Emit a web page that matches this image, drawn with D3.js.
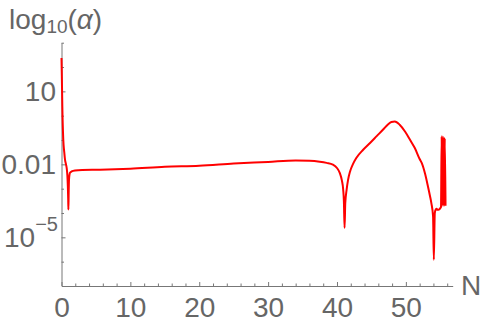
<!DOCTYPE html>
<html>
<head>
<meta charset="utf-8">
<script src="https://cdn.jsdelivr.net/npm/d3@7"></script>
<style>
  body { margin: 0; background: #fff; }
  svg text { font-family: "Liberation Sans", Arial, sans-serif; fill: #666; }
</style>
</head>
<body>
<svg width="484" height="325"></svg>
<script>
var nValues = [0.0, 0.05, 0.12, 0.26, 0.4, 0.51, 0.65, 0.75, 0.85, 0.92, 0.97, 1.0, 1.04, 1.09, 1.23, 1.48, 1.96,
  3, 5.6, 10, 15, 20, 25, 30, 34, 36, 37.5, 38.5, 39.4, 40, 40.4, 40.7, 40.9, 41.0, 41.1, 41.2, 41.4, 41.6, 41.9,
  42.3, 42.8, 43.8, 44.8, 45.8, 46.7, 47.4, 47.9, 48.4, 49.1, 49.9, 50.6, 51.3, 52.0, 52.3, 52.8, 53.2, 53.5, 53.7,
  53.95, 54.06, 54.2, 54.35, 54.46, 54.6, 54.8, 55.0, 55.1, 55.2, 55.25, 55.3, 55.4, 55.45, 55.55, 55.65, 55.76];
var logAlpha = [2.37, 1.6, 0.38, -0.99, -1.5, -1.81, -2.0, -2.15, -2.45, -2.9, -3.4, -3.86, -3.2, -2.63, -2.35, -2.29, -2.25,
  -2.23, -2.22, -2.18, -2.1, -2.06, -1.97, -1.9, -1.84, -1.85, -1.89, -1.94, -2.01, -2.15, -2.35, -2.65, -3.04, -3.5, -4.61, -3.6, -3.04, -2.65, -2.29,
  -2.0, -1.74, -1.4, -1.12, -0.83, -0.57, -0.36, -0.26, -0.24, -0.37, -0.66, -0.99, -1.33, -1.78, -1.94, -2.4, -2.9, -3.3, -3.59,
  -4.14, -5.92, -4.0, -3.85, -3.83, -3.87, -3.86, -3.8, -3.75, -0.85, -3.7, -0.86, -3.7, -0.88, -3.7, -0.92, -3.7];

var xMajorTicks = [0, 10, 20, 30, 40, 50];
var xMinorTicks = [2, 4, 6, 8, 12, 14, 16, 18, 22, 24, 26, 28, 32, 34, 36, 38, 42, 44, 46, 48, 52, 54, 56];
var yMajorTicks = [1, -2, -5];
var yTickLabels = [["10", ""], ["0.01", ""], ["10", "\u22125"]];
var yMinorTicks = [3, 2, 0, -1, -3, -4, -6];

var svg = d3.select('svg');

var x = d3.scaleLinear().domain([0, 56.8]).range([61.5, 452.7]);
var y = d3.scaleLinear().domain([-7, 3]).range([286, 42.7]);

function styleAxis(g) {
  g.select('.domain').attr('stroke', '#777').attr('stroke-width', 1);
  g.selectAll('.tick line').attr('stroke', '#777');
}

// x axis
svg.append('g')
  .attr('transform', 'translate(0,' + y(-7) + ')')
  .call(d3.axisBottom(x).tickValues(xMinorTicks).tickSize(-2.5).tickSizeOuter(0).tickFormat(''))
  .call(styleAxis)
  .select('.domain').remove();

var xAxis = svg.append('g')
  .attr('transform', 'translate(0,' + y(-7) + ')')
  .call(d3.axisBottom(x).tickValues(xMajorTicks).tickSize(-4).tickSizeOuter(0).tickPadding(11))
  .call(styleAxis);
xAxis.selectAll('text')
  .attr('font-size', 28)
  .attr('fill', '#666')
  .style('font-family', '"Liberation Sans", Arial, sans-serif');

// y axis
svg.append('g')
  .attr('transform', 'translate(' + x(0) + ',0)')
  .call(d3.axisLeft(y).tickValues(yMinorTicks).tickSize(-2.5).tickSizeOuter(0).tickFormat(''))
  .call(styleAxis)
  .select('.domain').remove();

svg.append('g')
  .attr('transform', 'translate(' + x(0) + ',0)')
  .call(d3.axisLeft(y).tickValues(yMajorTicks).tickSize(-4).tickSizeOuter(0).tickFormat(''))
  .call(styleAxis);

var yLabels = svg.selectAll('text.ylab')
  .data(yMajorTicks)
  .enter().append('text')
  .attr('class', 'ylab')
  .attr('text-anchor', 'end')
  .attr('font-size', 28)
  .attr('x', function(d, i) { return yTickLabels[i][1] ? 58 : 56; })
  .attr('y', function(d) { return y(d) + 10; });

yLabels.append('tspan')
  .text(function(d, i) { return yTickLabels[i][0]; });
yLabels.append('tspan')
  .attr('font-size', 20)
  .attr('dy', -16.5)
  .text(function(d, i) { return yTickLabels[i][1]; });

// axis titles
var yTitle = svg.append('text')
  .attr('x', 9)
  .attr('y', 28.5)
  .attr('font-size', 28);
yTitle.append('tspan').text('log');
yTitle.append('tspan').attr('font-size', 19).attr('dy', 4.5).text('10');
yTitle.append('tspan').attr('dy', -4.5).text('(');
yTitle.append('tspan').attr('font-style', 'italic').text('\u03b1');
yTitle.append('tspan').text(')');

svg.append('text')
  .attr('x', 461)
  .attr('y', 295)
  .attr('font-size', 28)
  .text('N');

// curve
var line = d3.line()
  .x(function(d) { return x(d[0]); })
  .y(function(d) { return y(d[1]); })
  .curve(d3.curveMonotoneX);

svg.append('path')
  .datum(d3.zip(nValues, logAlpha))
  .attr('d', line)
  .attr('fill', 'none')
  .attr('stroke', '#ff0000')
  .attr('stroke-width', 2)
  .attr('stroke-linejoin', 'round');
</script>
</body>
</html>
